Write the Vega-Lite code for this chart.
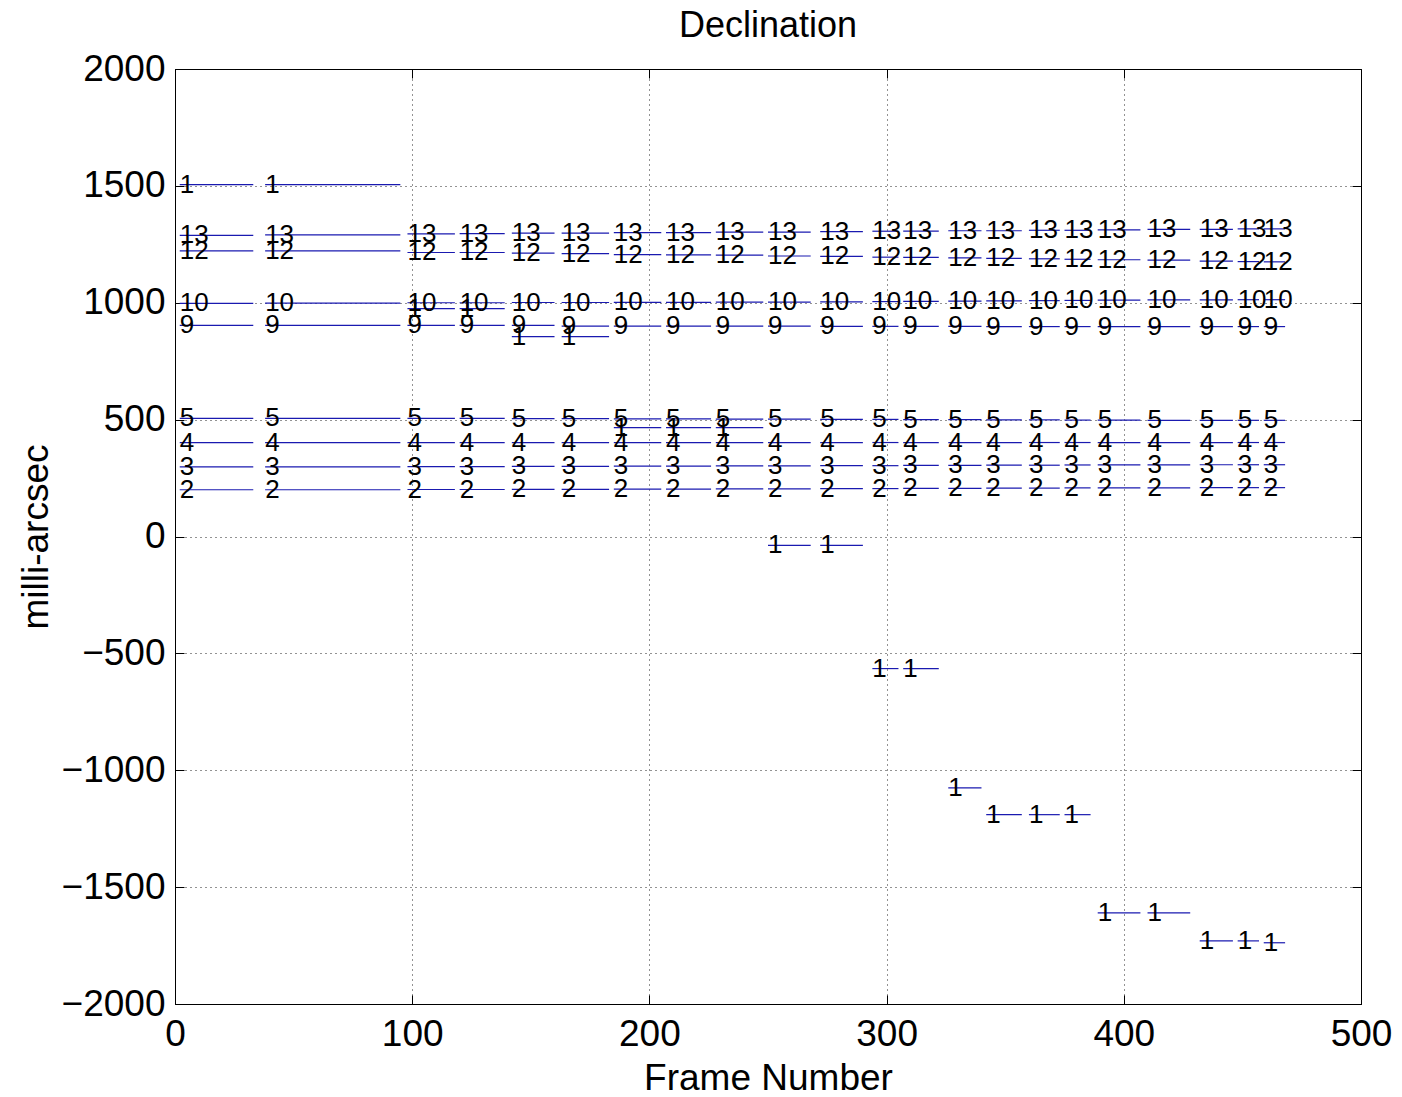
{
  "$schema": "https://vega.github.io/schema/vega-lite/v6.json",
  "autosize": "none",
  "width": 1186,
  "height": 935,
  "padding": {"left": 175, "top": 69, "right": 41, "bottom": 93},
  "background": "white",
  "title": {"text": "Declination", "fontSize": 36, "font": "Liberation Sans", "fontWeight": "normal", "color": "black", "offset": 5, "anchor": "middle"},
  "config": {
    "view": {"stroke": "black", "strokeWidth": 1},
    "axis": {"labelFont": "Liberation Sans", "titleFont": "Liberation Sans", "labelFontSize": 37, "titleFontSize": 37, "titleFontWeight": "normal", "labelColor": "black", "titleColor": "black", "domainColor": "black", "tickColor": "black", "gridColor": "black", "gridDash": [1, 4], "gridOpacity": 0.85, "gridWidth": 1}
  },
  "data": {"values": [
    {"s":2,"e":33,"star":"1","dec":1505},{"s":2,"e":33,"star":"2","dec":200},{"s":2,"e":33,"star":"3","dec":298},{"s":2,"e":33,"star":"4","dec":402},{"s":2,"e":33,"star":"5","dec":505},{"s":2,"e":33,"star":"9","dec":903},{"s":2,"e":33,"star":"10","dec":997},{"s":2,"e":33,"star":"12","dec":1222},{"s":2,"e":33,"star":"13","dec":1288},
    {"s":38,"e":95,"star":"1","dec":1505},{"s":38,"e":95,"star":"2","dec":200},{"s":38,"e":95,"star":"3","dec":298},{"s":38,"e":95,"star":"4","dec":402},{"s":38,"e":95,"star":"5","dec":505},{"s":38,"e":95,"star":"9","dec":903},{"s":38,"e":95,"star":"10","dec":998},{"s":38,"e":95,"star":"12","dec":1222},{"s":38,"e":95,"star":"13","dec":1290},
    {"s":98,"e":118,"star":"1","dec":975},{"s":98,"e":118,"star":"2","dec":201},{"s":98,"e":118,"star":"3","dec":299},{"s":98,"e":118,"star":"4","dec":402},{"s":98,"e":118,"star":"5","dec":505},{"s":98,"e":118,"star":"9","dec":903},{"s":98,"e":118,"star":"10","dec":1000},{"s":98,"e":118,"star":"12","dec":1215},{"s":98,"e":118,"star":"13","dec":1295},
    {"s":120,"e":139,"star":"1","dec":975},{"s":120,"e":139,"star":"2","dec":201},{"s":120,"e":139,"star":"3","dec":299},{"s":120,"e":139,"star":"4","dec":402},{"s":120,"e":139,"star":"5","dec":505},{"s":120,"e":139,"star":"9","dec":903},{"s":120,"e":139,"star":"10","dec":1000},{"s":120,"e":139,"star":"12","dec":1215},{"s":120,"e":139,"star":"13","dec":1296},
    {"s":142,"e":160,"star":"1","dec":855},{"s":142,"e":160,"star":"2","dec":202},{"s":142,"e":160,"star":"3","dec":300},{"s":142,"e":160,"star":"4","dec":402},{"s":142,"e":160,"star":"5","dec":504},{"s":142,"e":160,"star":"9","dec":903},{"s":142,"e":160,"star":"10","dec":1001},{"s":142,"e":160,"star":"12","dec":1212},{"s":142,"e":160,"star":"13","dec":1298},
    {"s":163,"e":183,"star":"1","dec":855},{"s":163,"e":183,"star":"2","dec":202},{"s":163,"e":183,"star":"3","dec":300},{"s":163,"e":183,"star":"4","dec":402},{"s":163,"e":183,"star":"5","dec":504},{"s":163,"e":183,"star":"9","dec":900},{"s":163,"e":183,"star":"10","dec":1001},{"s":163,"e":183,"star":"12","dec":1210},{"s":163,"e":183,"star":"13","dec":1298},
    {"s":185,"e":205,"star":"1","dec":466},{"s":185,"e":205,"star":"2","dec":203},{"s":185,"e":205,"star":"3","dec":301},{"s":185,"e":205,"star":"4","dec":402},{"s":185,"e":205,"star":"5","dec":503},{"s":185,"e":205,"star":"9","dec":900},{"s":185,"e":205,"star":"10","dec":1002},{"s":185,"e":205,"star":"12","dec":1206},{"s":185,"e":205,"star":"13","dec":1300},
    {"s":207,"e":226,"star":"1","dec":466},{"s":207,"e":226,"star":"2","dec":203},{"s":207,"e":226,"star":"3","dec":301},{"s":207,"e":226,"star":"4","dec":402},{"s":207,"e":226,"star":"5","dec":503},{"s":207,"e":226,"star":"9","dec":900},{"s":207,"e":226,"star":"10","dec":1002},{"s":207,"e":226,"star":"12","dec":1205},{"s":207,"e":226,"star":"13","dec":1300},
    {"s":228,"e":248,"star":"1","dec":466},{"s":228,"e":248,"star":"2","dec":204},{"s":228,"e":248,"star":"3","dec":302},{"s":228,"e":248,"star":"4","dec":402},{"s":228,"e":248,"star":"5","dec":502},{"s":228,"e":248,"star":"9","dec":900},{"s":228,"e":248,"star":"10","dec":1003},{"s":228,"e":248,"star":"12","dec":1204},{"s":228,"e":248,"star":"13","dec":1302},
    {"s":250,"e":268,"star":"1","dec":-38},{"s":250,"e":268,"star":"2","dec":204},{"s":250,"e":268,"star":"3","dec":302},{"s":250,"e":268,"star":"4","dec":402},{"s":250,"e":268,"star":"5","dec":502},{"s":250,"e":268,"star":"9","dec":900},{"s":250,"e":268,"star":"10","dec":1003},{"s":250,"e":268,"star":"12","dec":1200},{"s":250,"e":268,"star":"13","dec":1302},
    {"s":272,"e":290,"star":"1","dec":-38},{"s":272,"e":290,"star":"2","dec":205},{"s":272,"e":290,"star":"3","dec":303},{"s":272,"e":290,"star":"4","dec":402},{"s":272,"e":290,"star":"5","dec":501},{"s":272,"e":290,"star":"9","dec":899},{"s":272,"e":290,"star":"10","dec":1004},{"s":272,"e":290,"star":"12","dec":1198},{"s":272,"e":290,"star":"13","dec":1304},
    {"s":294,"e":305,"star":"1","dec":-565},{"s":294,"e":305,"star":"2","dec":205},{"s":294,"e":305,"star":"3","dec":303},{"s":294,"e":305,"star":"4","dec":402},{"s":294,"e":305,"star":"5","dec":501},{"s":294,"e":305,"star":"9","dec":899},{"s":294,"e":305,"star":"10","dec":1005},{"s":294,"e":305,"star":"12","dec":1195},{"s":294,"e":305,"star":"13","dec":1306},
    {"s":307,"e":322,"star":"1","dec":-565},{"s":307,"e":322,"star":"2","dec":206},{"s":307,"e":322,"star":"3","dec":304},{"s":307,"e":322,"star":"4","dec":402},{"s":307,"e":322,"star":"5","dec":500},{"s":307,"e":322,"star":"9","dec":899},{"s":307,"e":322,"star":"10","dec":1006},{"s":307,"e":322,"star":"12","dec":1194},{"s":307,"e":322,"star":"13","dec":1306},
    {"s":326,"e":340,"star":"1","dec":-1075},{"s":326,"e":340,"star":"2","dec":206},{"s":326,"e":340,"star":"3","dec":304},{"s":326,"e":340,"star":"4","dec":402},{"s":326,"e":340,"star":"5","dec":500},{"s":326,"e":340,"star":"9","dec":899},{"s":326,"e":340,"star":"10","dec":1007},{"s":326,"e":340,"star":"12","dec":1192},{"s":326,"e":340,"star":"13","dec":1308},
    {"s":342,"e":357,"star":"1","dec":-1190},{"s":342,"e":357,"star":"2","dec":207},{"s":342,"e":357,"star":"3","dec":305},{"s":342,"e":357,"star":"4","dec":402},{"s":342,"e":357,"star":"5","dec":499},{"s":342,"e":357,"star":"9","dec":898},{"s":342,"e":357,"star":"10","dec":1008},{"s":342,"e":357,"star":"12","dec":1190},{"s":342,"e":357,"star":"13","dec":1308},
    {"s":360,"e":373,"star":"1","dec":-1190},{"s":360,"e":373,"star":"2","dec":207},{"s":360,"e":373,"star":"3","dec":305},{"s":360,"e":373,"star":"4","dec":402},{"s":360,"e":373,"star":"5","dec":499},{"s":360,"e":373,"star":"9","dec":898},{"s":360,"e":373,"star":"10","dec":1009},{"s":360,"e":373,"star":"12","dec":1188},{"s":360,"e":373,"star":"13","dec":1310},
    {"s":375,"e":386,"star":"1","dec":-1190},{"s":375,"e":386,"star":"2","dec":208},{"s":375,"e":386,"star":"3","dec":306},{"s":375,"e":386,"star":"4","dec":402},{"s":375,"e":386,"star":"5","dec":498},{"s":375,"e":386,"star":"9","dec":898},{"s":375,"e":386,"star":"10","dec":1010},{"s":375,"e":386,"star":"12","dec":1186},{"s":375,"e":386,"star":"13","dec":1310},
    {"s":389,"e":407,"star":"1","dec":-1610},{"s":389,"e":407,"star":"2","dec":208},{"s":389,"e":407,"star":"3","dec":306},{"s":389,"e":407,"star":"4","dec":402},{"s":389,"e":407,"star":"5","dec":498},{"s":389,"e":407,"star":"9","dec":898},{"s":389,"e":407,"star":"10","dec":1011},{"s":389,"e":407,"star":"12","dec":1184},{"s":389,"e":407,"star":"13","dec":1312},
    {"s":410,"e":428,"star":"1","dec":-1610},{"s":410,"e":428,"star":"2","dec":208},{"s":410,"e":428,"star":"3","dec":306},{"s":410,"e":428,"star":"4","dec":402},{"s":410,"e":428,"star":"5","dec":497},{"s":410,"e":428,"star":"9","dec":898},{"s":410,"e":428,"star":"10","dec":1012},{"s":410,"e":428,"star":"12","dec":1182},{"s":410,"e":428,"star":"13","dec":1314},
    {"s":432,"e":446,"star":"1","dec":-1730},{"s":432,"e":446,"star":"2","dec":209},{"s":432,"e":446,"star":"3","dec":307},{"s":432,"e":446,"star":"4","dec":402},{"s":432,"e":446,"star":"5","dec":497},{"s":432,"e":446,"star":"9","dec":898},{"s":432,"e":446,"star":"10","dec":1012},{"s":432,"e":446,"star":"12","dec":1178},{"s":432,"e":446,"star":"13","dec":1314},
    {"s":448,"e":457,"star":"1","dec":-1730},{"s":448,"e":457,"star":"2","dec":209},{"s":448,"e":457,"star":"3","dec":307},{"s":448,"e":457,"star":"4","dec":402},{"s":448,"e":457,"star":"5","dec":497},{"s":448,"e":457,"star":"9","dec":898},{"s":448,"e":457,"star":"10","dec":1013},{"s":448,"e":457,"star":"12","dec":1176},{"s":448,"e":457,"star":"13","dec":1316},
    {"s":459,"e":468,"star":"1","dec":-1738},{"s":459,"e":468,"star":"2","dec":209},{"s":459,"e":468,"star":"3","dec":307},{"s":459,"e":468,"star":"4","dec":402},{"s":459,"e":468,"star":"5","dec":497},{"s":459,"e":468,"star":"9","dec":898},{"s":459,"e":468,"star":"10","dec":1013},{"s":459,"e":468,"star":"12","dec":1175},{"s":459,"e":468,"star":"13","dec":1316}
  ]},
  "layer": [
    {
      "mark": {"type": "rule", "color": "#1a1ab0", "strokeWidth": 1.2},
      "encoding": {
        "x": {"field": "s", "type": "quantitative", "scale": {"domain": [0, 500], "nice": false, "zero": false},
              "axis": {"orient": "bottom", "values": [0, 100, 200, 300, 400, 500], "format": "d", "tickSize": -9, "labelPadding": 21, "title": "Frame Number", "titlePadding": 8, "grid": true, "labelFlush": false}},
        "x2": {"field": "e"},
        "y": {"field": "dec", "type": "quantitative", "scale": {"domain": [-2000, 2000], "nice": false, "zero": false},
              "axis": {"orient": "left", "values": [-2000, -1500, -1000, -500, 0, 500, 1000, 1500, 2000], "format": "d", "tickSize": -9, "labelPadding": 19, "title": "milli-arcsec", "titlePadding": 6, "grid": true, "labelFlush": false}}
      }
    },
    {
      "mark": {"type": "text", "align": "left", "baseline": "middle", "font": "Liberation Sans", "fontSize": 26, "color": "black"},
      "encoding": {
        "x": {"field": "s", "type": "quantitative",
              "axis": {"orient": "top", "values": [0, 100, 200, 300, 400, 500], "tickSize": -9, "labels": false, "title": null, "grid": false, "domain": false}},
        "y": {"field": "dec", "type": "quantitative",
              "axis": {"orient": "right", "values": [-2000, -1500, -1000, -500, 0, 500, 1000, 1500, 2000], "tickSize": -9, "labels": false, "title": null, "grid": false, "domain": false}},
        "text": {"field": "star", "type": "nominal"}
      }
    }
  ],
  "resolve": {"axis": {"x": "independent", "y": "independent"}}
}
